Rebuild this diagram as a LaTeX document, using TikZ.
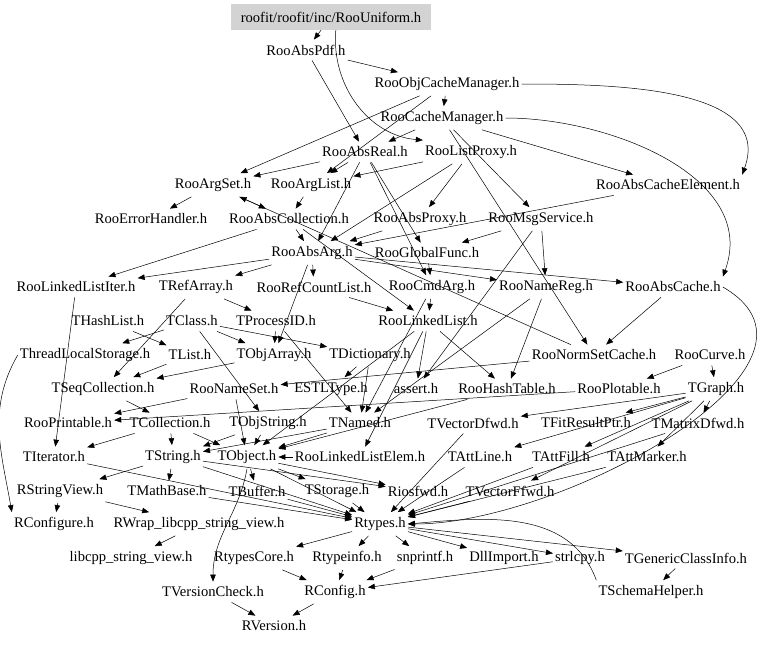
\documentclass[tikz,border=0pt]{standalone}
\usepackage{fontspec}
\setmainfont{Liberation Serif}
\usetikzlibrary{arrows.meta}
\definecolor{topgray}{RGB}{211,211,211}
\begin{document}
\begin{tikzpicture}[x=1pt,y=-1pt,
  n/.style={inner xsep=2pt,inner ysep=5pt,font=\fontsize{14.6}{16}\selectfont},
  e/.style={draw=black,line width=0.5pt,-{Triangle[length=7pt,width=5.5pt]}}]
\useasboundingbox (0,0) rectangle (768,645);
\node[n,fill=topgray,minimum width=200pt,minimum height=26pt] (U) at (331,17) {roofit/roofit/inc/RooUniform.h};
\node[n] (pdf) at (306,50) {RooAbsPdf.h};
\node[n] (ocm) at (447,84) {RooObjCacheManager.h};
\node[n] (cm) at (442,118) {RooCacheManager.h};
\node[n] (areal) at (365,152) {RooAbsReal.h};
\node[n] (lproxy) at (471,152) {RooListProxy.h};
\node[n] (aset) at (213,185) {RooArgSet.h};
\node[n] (alist) at (311,185) {RooArgList.h};
\node[n] (ace) at (668,185) {RooAbsCacheElement.h};
\node[n] (err) at (151,219) {RooErrorHandler.h};
\node[n] (acoll) at (289,219) {RooAbsCollection.h};
\node[n] (aproxy) at (420,219) {RooAbsProxy.h};
\node[n] (msg) at (541,219) {RooMsgService.h};
\node[n] (aarg) at (312,253) {RooAbsArg.h};
\node[n] (gfunc) at (427,253) {RooGlobalFunc.h};
\node[n] (llit) at (76,287) {RooLinkedListIter.h};
\node[n] (trefa) at (196,287) {TRefArray.h};
\node[n] (rcl) at (314,287) {RooRefCountList.h};
\node[n] (cmd) at (432,287) {RooCmdArg.h};
\node[n] (nreg) at (546,287) {RooNameReg.h};
\node[n] (acache) at (673,287) {RooAbsCache.h};
\node[n] (thl) at (108,321) {THashList.h};
\node[n] (tclass) at (192,321) {TClass.h};
\node[n] (tpid) at (276,321) {TProcessID.h};
\node[n] (ll) at (428,321) {RooLinkedList.h};
\node[n] (tls) at (85,355) {ThreadLocalStorage.h};
\node[n] (tlist) at (190,355) {TList.h};
\node[n] (tobja) at (274,355) {TObjArray.h};
\node[n] (tdict) at (370,355) {TDictionary.h};
\node[n] (nsc) at (594,355) {RooNormSetCache.h};
\node[n] (curve) at (710,355) {RooCurve.h};
\node[n] (tseq) at (103,389) {TSeqCollection.h};
\node[n] (nset) at (234,389) {RooNameSet.h};
\node[n] (estl) at (331,389) {ESTLType.h};
\node[n] (assert) at (416,389) {assert.h};
\node[n] (htab) at (507,389) {RooHashTable.h};
\node[n] (plot) at (619,389) {RooPlotable.h};
\node[n] (tgraph) at (716,389) {TGraph.h};
\node[n] (print) at (68,423) {RooPrintable.h};
\node[n] (tcoll) at (170,423) {TCollection.h};
\node[n] (tostr) at (268,423) {TObjString.h};
\node[n] (tnamed) at (360,423) {TNamed.h};
\node[n] (tvd) at (473,423) {TVectorDfwd.h};
\node[n] (tfrp) at (586,423) {TFitResultPtr.h};
\node[n] (tmd) at (698,423) {TMatrixDfwd.h};
\node[n] (titer) at (54,457) {TIterator.h};
\node[n] (tstr) at (173,457) {TString.h};
\node[n] (tobj) at (247,457) {TObject.h};
\node[n] (lle) at (360,457) {RooLinkedListElem.h};
\node[n] (tal) at (480,457) {TAttLine.h};
\node[n] (taf) at (561,457) {TAttFill.h};
\node[n] (tam) at (647,457) {TAttMarker.h};
\node[n] (rsv) at (60,491) {RStringView.h};
\node[n] (tmb) at (167,491) {TMathBase.h};
\node[n] (tbuf) at (257,491) {TBuffer.h};
\node[n] (tsto) at (337,491) {TStorage.h};
\node[n] (riof) at (418,491) {Riosfwd.h};
\node[n] (tvf) at (510,491) {TVectorFfwd.h};
\node[n] (rconfigure) at (54,524) {RConfigure.h};
\node[n] (rwrap) at (199,524) {RWrap\_libcpp\_string\_view.h};
\node[n] (rtypes) at (380,524) {Rtypes.h};
\node[n] (libcpp) at (131,558) {libcpp\_string\_view.h};
\node[n] (rcore) at (254,558) {RtypesCore.h};
\node[n] (rtinfo) at (347,558) {Rtypeinfo.h};
\node[n] (snp) at (425,558) {snprintf.h};
\node[n] (dll) at (504,558) {DllImport.h};
\node[n] (strl) at (580,558) {strlcpy.h};
\node[n] (tgci) at (686,558) {TGenericClassInfo.h};
\node[n] (tvc) at (213,592) {TVersionCheck.h};
\node[n] (rconfig) at (335,592) {RConfig.h};
\node[n] (tsh) at (651,592) {TSchemaHelper.h};
\node[n] (rver) at (274,626) {RVersion.h};
% straight connectors
\foreach \a/\b in {U/pdf,pdf/ocm,pdf/areal,ocm/cm,ocm/alist,ocm/aset,cm/areal,cm/ace,cm/msg,cm/nsc,
  areal/aarg,areal/alist,areal/aset,areal/cmd,areal/gfunc,lproxy/aproxy,lproxy/alist,lproxy/aarg,
  aset/acoll,aset/err,alist/acoll,acoll/aarg,acoll/llit,acoll/ll,aproxy/aarg,msg/gfunc,msg/nreg,msg/assert,
  aarg/rcl,aarg/llit,aarg/trefa,aarg/acache,aarg/nreg,aarg/tobja,gfunc/cmd,cmd/ll,cmd/tnamed,
  rcl/ll,nreg/htab,nreg/tnamed,acache/nsc,llit/titer,trefa/tseq,trefa/tpid,
  thl/tlist,tclass/tls,tclass/tobja,tclass/tdict,tclass/tostr,tpid/tobja,tpid/tnamed,
  ll/htab,ll/lle,ll/assert,ll/tobj,tlist/tseq,tobja/tseq,tdict/estl,tdict/tnamed,
  nsc/nset,nsc/aset,curve/tgraph,curve/plot,tseq/tcoll,nset/print,nset/tobj,htab/tobj,plot/print,
  tgraph/tfrp,tgraph/tmd,tgraph/tvd,tgraph/tam,tgraph/taf,tgraph/tal,tgraph/tvf,
  tcoll/tobj,tcoll/titer,tcoll/tstr,tostr/tobj,tostr/tstr,tnamed/tobj,tnamed/tstr,
  tvd/rtypes,tmd/rtypes,titer/rtypes,tstr/tmb,tstr/rsv,tstr/rtypes,tstr/riof,
  tobj/tbuf,tobj/tsto,tobj/riof,tobj/rtypes,lle/tobj,tal/rtypes,taf/rtypes,tam/rtypes,
  rsv/rconfigure,rsv/rwrap,tmb/rtypes,tbuf/rtypes,tsto/rtypes,tvf/rtypes,rwrap/libcpp,
  rtypes/rcore,rtypes/rtinfo,rtypes/snp,rtypes/dll,rtypes/strl,rtypes/tgci,
  rcore/rconfig,rtinfo/rconfig,snp/rconfig,strl/rconfig,tvc/rver,rconfig/rver,tgci/tsh,
  ace/aarg}
  \draw[e] (\a) -- (\b);
% curved connectors
\draw[e] (U.-70) to[out=-95,in=175] (lproxy.north west);
\draw[e] (ocm.east) to[out=0,in=70] (ace.north east);
\draw[e] (cm.east) to[out=0,in=70] (acache.north east);
\draw[e] (acache.east) to[out=-30,in=0] (rtypes.east);
\draw[e] (tls.west) to[out=-120,in=100] (rconfigure.north west);
\draw[e] (tobj.south) to[out=-100,in=90] (tvc.north);
\draw[e] (tsh.north west) to[out=110,in=5] (rtypes.east);
\end{tikzpicture}
\end{document}
